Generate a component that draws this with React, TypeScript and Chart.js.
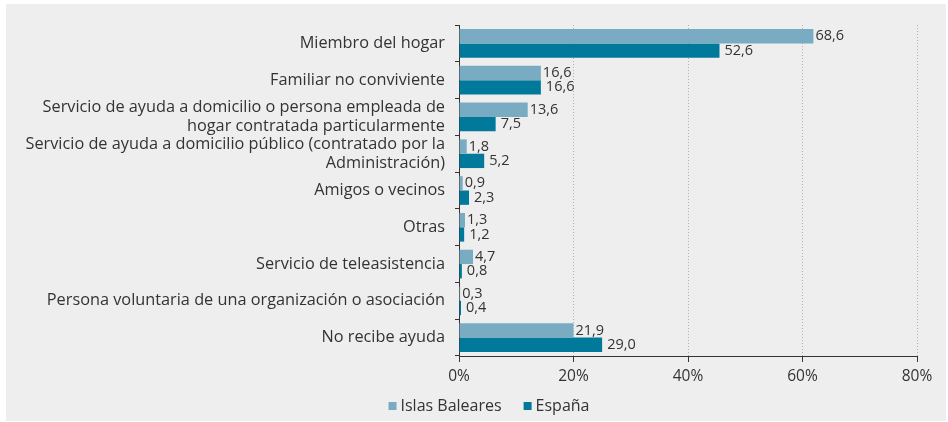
import React, { useEffect, useRef } from "react";
import { Chart, registerables } from "chart.js";

Chart.register(...registerables);

const categories: (string | string[])[] = [
  "Miembro del hogar",
  "Familiar no conviviente",
  ["Servicio de ayuda a domicilio o persona empleada de", "hogar contratada particularmente"],
  ["Servicio de ayuda a domicilio público (contratado por la", "Administración)"],
  "Amigos o vecinos",
  "Otras",
  "Servicio de teleasistencia",
  "Persona voluntaria de una organización o asociación",
  "No recibe ayuda",
];

// bar lengths as drawn in the picture (% axis)
const balearesBars = [61.9, 14.3, 12.0, 1.35, 0.65, 1.05, 2.45, 0.2, 20.0];
const espanaBars = [45.5, 14.3, 6.4, 4.4, 1.75, 0.9, 0.5, 0.35, 25.0];

// value labels as printed
const balearesLabels = ["68,6", "16,6", "13,6", "1,8", "0,9", "1,3", "4,7", "0,3", "21,9"];
const espanaLabels = ["52,6", "16,6", "7,5", "5,2", "2,3", "1,2", "0,8", "0,4", "29,0"];

const seriesNames = ["Islas Baleares", "España"];
const xTicks = [0, 20, 40, 60, 80];

const FONT = "'Open Sans', Lato, sans-serif";
const TEXT = "#333333";
const LIGHT = "#79abc2";
const DARK = "#00799a";

const valueLabelPlugin = {
  id: "valueLabels",
  afterDatasetsDraw(chart: any) {
    const ctx = chart.ctx;
    const labelSets = [balearesLabels, espanaLabels];
    const offsets = [2, 5];
    ctx.save();
    ctx.font = `14.5px ${FONT}`;
    ctx.fillStyle = TEXT;
    ctx.textAlign = "left";
    ctx.textBaseline = "middle";
    chart.data.datasets.forEach((_ds: any, i: number) => {
      const meta = chart.getDatasetMeta(i);
      meta.data.forEach((bar: any, j: number) => {
        ctx.fillText(labelSets[i][j], bar.x + offsets[i], bar.y);
      });
    });
    ctx.restore();
  },
};

const legendPlugin = {
  id: "customLegend",
  afterDraw(chart: any) {
    const ctx = chart.ctx;
    ctx.save();
    ctx.font = `16px ${FONT}`;
    ctx.textBaseline = "middle";
    ctx.textAlign = "left";
    const box = 8;
    const gapBoxText = 4;
    const gapItems = 22;
    const items = chart.data.datasets.map((ds: any) => ({
      label: ds.label,
      color: ds.backgroundColor,
      w: ctx.measureText(ds.label).width,
    }));
    const total =
      items.reduce((s: number, it: any) => s + box + gapBoxText + it.w, 0) +
      gapItems * (items.length - 1);
    let x = 483 - total / 2;
    const y = 402;
    items.forEach((it: any) => {
      ctx.fillStyle = it.color;
      ctx.fillRect(x, y - box / 2, box, box);
      x += box + gapBoxText;
      ctx.fillStyle = TEXT;
      ctx.fillText(it.label, x, y);
      x += it.w + gapItems;
    });
    ctx.restore();
  },
};

export default function App() {
  const ref = useRef<HTMLCanvasElement | null>(null);

  useEffect(() => {
    document.body.style.margin = "0";
    if (!ref.current) return;
    const chart = new Chart(ref.current, {
      type: "bar",
      data: {
        labels: categories as any,
        datasets: [
          {
            label: seriesNames[0],
            data: balearesBars,
            backgroundColor: LIGHT,
            borderWidth: 0,
            barPercentage: 1,
            categoryPercentage: 0.78,
          },
          {
            label: seriesNames[1],
            data: espanaBars,
            backgroundColor: DARK,
            borderWidth: 0,
            barPercentage: 1,
            categoryPercentage: 0.78,
          },
        ],
      },
      options: {
        indexAxis: "y",
        responsive: false,
        maintainAspectRatio: false,
        animation: false,
        layout: { padding: { left: 10, right: 29, top: 21, bottom: 40 } },
        plugins: {
          legend: { display: false },
          tooltip: { enabled: false },
        },
        scales: {
          x: {
            min: 0,
            max: 80,
            afterBuildTicks: (scale: any) => {
              scale.ticks = xTicks.map((v) => ({ value: v }));
            },
            afterFit: (scale: any) => {
              scale.height = 25;
            },
            ticks: {
              color: TEXT,
              font: { family: FONT, size: 15.5 },
              padding: 5,
              callback: (v: any) => `${v}%`,
            },
            grid: {
              color: (c: any) => (c.tick && c.tick.value === 0 ? "rgba(0,0,0,0)" : "#b0b0b0"),
              lineWidth: 1,
              tickColor: TEXT,
              tickLength: 6,
              tickBorderDash: [],
            },
            border: { display: true, color: TEXT, width: 1, dash: [1, 2] },
          },
          y: {
            afterFit: (scale: any) => {
              scale.width = 443;
            },
            ticks: {
              autoSkip: false,
              color: TEXT,
              font: { family: FONT, size: 16.3, lineHeight: 1.17 },
              padding: 10,
            },
            grid: {
              offset: true,
              drawOnChartArea: false,
              tickColor: TEXT,
              tickLength: 4,
            },
            border: { display: true, color: TEXT, width: 1 },
          },
        },
      },
      plugins: [valueLabelPlugin, legendPlugin],
    });
    return () => chart.destroy();
  }, []);

  return (
    <div style={{ position: "fixed", left: 0, top: 0, width: 948, height: 422, background: "#ffffff" }}>
      <div style={{ position: "absolute", left: 6, top: 4, width: 940, height: 417, background: "#eeeeee" }}>
        <canvas ref={ref} width={940} height={417} style={{ display: "block" }} />
      </div>
    </div>
  );
}
